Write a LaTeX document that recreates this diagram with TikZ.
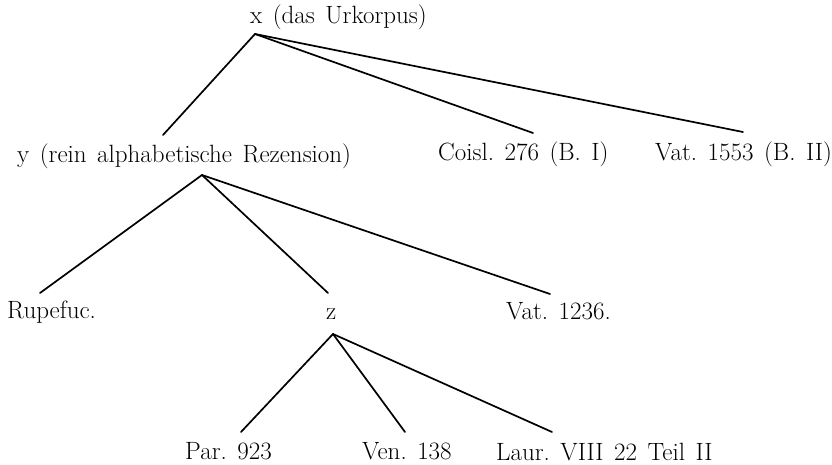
\documentclass[tikz,border=0pt]{standalone}
\begin{document}
\begin{tikzpicture}[x=1pt,y=-1pt,
  lbl/.style={anchor=base west,inner sep=0pt,font={\fontsize{25}{29}\selectfont\spaceskip=10.5pt\relax}},
  edge/.style={line width=1.7pt,line cap=round}]
\useasboundingbox (0,0) rectangle (832,465);
\frenchspacing
% labels
\node[lbl] (X) at (250,24) {x (das Urkorpus)};
\node[lbl] (Y) at (17,163) {y (rein alphabetische Rezension)};
\node[lbl] (C) at (438,161) {Coisl. 276 (B. I)};
\node[lbl] (V1) at (655,161) {Vat. 1553 (B. II)};
\node[lbl] (R) at (7,318) {Rupefuc.};
\node[lbl] (Z) at (326,319) {z};
\node[lbl] (V2) at (506,319) {Vat. 1236.};
\node[lbl] (P) at (185,459) {Par. 923};
\node[lbl] (VE) at (362,459) {Ven. 138};
\node[lbl] (L) at (496,460) {Laur. VIII 22 Teil II};
% junction points
\coordinate (Xb) at (255,34);
\coordinate (Yt) at (163,135);
\coordinate (Ct) at (533,133);
\coordinate (V1t) at (743,132);
\coordinate (Yb) at (202,175);
\coordinate (Rt) at (40,293);
\coordinate (Zt) at (328,293);
\coordinate (V2t) at (550,294);
\coordinate (Zb) at (333,334);
\coordinate (Pt) at (241,432);
\coordinate (VEt) at (405,432);
\coordinate (Lt) at (552,432);
% connectors
\draw[edge] (Xb) -- (Yt);
\draw[edge] (Xb) -- (Ct);
\draw[edge] (Xb) -- (V1t);
\draw[edge] (Yb) -- (Rt);
\draw[edge] (Yb) -- (Zt);
\draw[edge] (Yb) -- (V2t);
\draw[edge] (Zb) -- (Pt);
\draw[edge] (Zb) -- (VEt);
\draw[edge] (Zb) -- (Lt);
\end{tikzpicture}
\end{document}
